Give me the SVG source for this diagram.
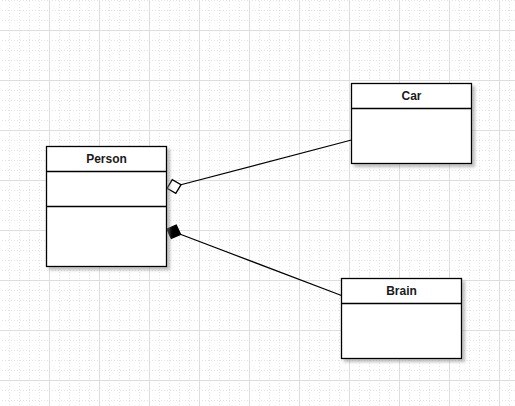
<svg xmlns="http://www.w3.org/2000/svg" width="515" height="406" viewBox="0 0 515 406">
<style>
.box{fill:#fff;stroke:#000;stroke-width:1.3}
.div{stroke:#000;stroke-width:1.3;fill:none}
.lbl{font-family:"Liberation Sans",Arial,sans-serif;font-size:12px;font-weight:bold;fill:#1a1a1a;text-anchor:middle}
.edge{stroke:#000;stroke-width:1.2;fill:none}
.minor{stroke:#e4e4e4;stroke-width:1;stroke-dasharray:1 2}
.major{stroke:#dedede;stroke-width:1}
</style>
<defs>
<pattern id="grid" x="49" y="30" width="50" height="50" patternUnits="userSpaceOnUse">
<path class="minor" d="M10.5,0V50M20.5,0V50M30.5,0V50M40.5,0V50M0,10.5H50M0,20.5H50M0,30.5H50M0,40.5H50"/>
<path class="major" d="M0.5,0V50M0,0.5H50"/>
</pattern>
<filter id="sh" x="-10%" y="-10%" width="130%" height="130%">
<feDropShadow dx="3" dy="3" stdDeviation="1.6" flood-color="#808080" flood-opacity="0.5"/>
</filter>
<marker id="aggr" markerUnits="userSpaceOnUse" markerWidth="20" markerHeight="20" refX="0" refY="0" viewBox="-2 -9 18 18" orient="auto" overflow="visible">
<path d="M0.5,0L7,-6.3L13.5,0L7,6.3Z" fill="#fff" stroke="#000" stroke-width="1.2"/>
</marker>
<marker id="comp" markerUnits="userSpaceOnUse" markerWidth="20" markerHeight="20" refX="0" refY="0" viewBox="-2 -9 18 18" orient="auto" overflow="visible">
<path d="M0.5,0L7,-6.3L13.5,0L7,6.3Z" fill="#000" stroke="#000" stroke-width="1.2"/>
</marker>
</defs>
<rect width="515" height="406" fill="#fff"/>
<rect width="515" height="406" fill="url(#grid)"/>
<g id="connectors">
<path id="person-car" class="edge" d="M166.5,188.5L351.5,140" marker-start="url(#aggr)"/>
<path id="person-brain" class="edge" d="M166.5,229L341.5,295.5" marker-start="url(#comp)"/>
</g>
<g id="person">
<rect class="box" x="46.5" y="146.5" width="120" height="120" filter="url(#sh)"/>
<path class="div" d="M46.5,171.5H166.5M46.5,206.5H166.5"/>
<text class="lbl" x="106.5" y="163">Person</text>
</g>
<g id="car">
<rect class="box" x="351.5" y="83.5" width="120" height="80" filter="url(#sh)"/>
<path class="div" d="M351.5,108.5H471.5"/>
<text class="lbl" x="411.5" y="100">Car</text>
</g>
<g id="brain">
<rect class="box" x="341.5" y="278.5" width="120" height="80" filter="url(#sh)"/>
<path class="div" d="M341.5,303.5H461.5"/>
<text class="lbl" x="401.5" y="295">Brain</text>
</g>
</svg>
